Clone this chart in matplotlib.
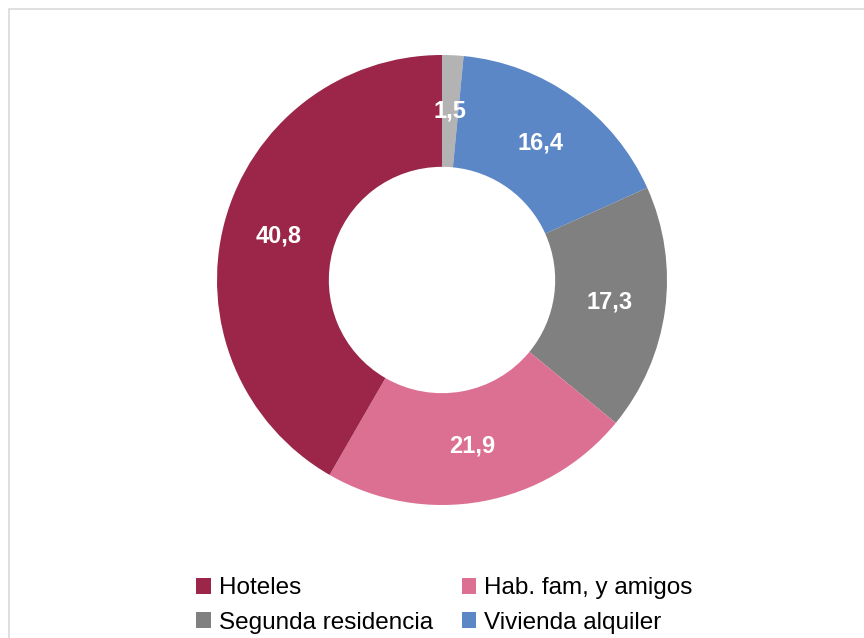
import matplotlib as mpl
from matplotlib import pyplot as plt
from matplotlib.patches import Rectangle, Patch
import numpy as np

plt.rcParams['font.family'] = ['Liberation Sans', 'DejaVu Sans']

# slices in drawing order, clockwise from 12 o'clock
categories = ["Otros", "Vivienda alquiler", "Segunda residencia",
              "Hab. fam, y amigos", "Hoteles"]
values = [1.5, 16.4, 17.3, 21.9, 40.8]
colors = ['#b3b3b3', '#5b87c7', '#808080', '#dc7092', '#9b2649']

# legend order as shown (the "Otros" row is cut off in the reference)
legend_order = ["Hoteles", "Segunda residencia", "Hab. fam, y amigos", "Vivienda alquiler"]

W, H = 864, 638
fig = plt.figure(figsize=(W / 100, H / 100), dpi=100)

# chart frame, only its top and left edges fall inside the picture
fig.patches.append(Rectangle((8.5 / W, -0.5), 1.5, (H - 8.5) / H + 0.5,
                             transform=fig.transFigure, fill=False,
                             edgecolor='#d9d9d9', linewidth=1.2))

cx, cy, r = 442, 280, 225
ax = fig.add_axes([(cx - r) / W, (H - cy - r) / H, 2 * r / W, 2 * r / H])

wedges, texts = ax.pie(values, colors=colors, startangle=90, counterclock=False,
                       radius=1.0, wedgeprops=dict(width=0.497, linewidth=0))

total = sum(values)
ang = 90.0
for v in values:
    span = v / total * 360
    mid = np.deg2rad(ang - span / 2)
    ax.text(0.75 * np.cos(mid), 0.75 * np.sin(mid), f"{v:.1f}".replace('.', ','),
            ha='center', va='center', color='white', fontsize=17, fontweight='bold')
    ang -= span

ax.set_xlim(-1, 1)
ax.set_ylim(-1, 1)
ax.set_aspect('equal')
ax.axis('off')

handles = [Patch(facecolor=colors[categories.index(c)], edgecolor='none') for c in legend_order]
fig.legend(handles, legend_order, ncol=2, loc='center left',
           bbox_to_anchor=(196 / W, 1 - 605.5 / H), frameon=False, fontsize=17.5,
           handlelength=0.6, handleheight=0.6, handletextpad=0.33,
           columnspacing=1.2, labelspacing=0.5, borderpad=0, borderaxespad=0)

fig.savefig('out.png', dpi=100)
